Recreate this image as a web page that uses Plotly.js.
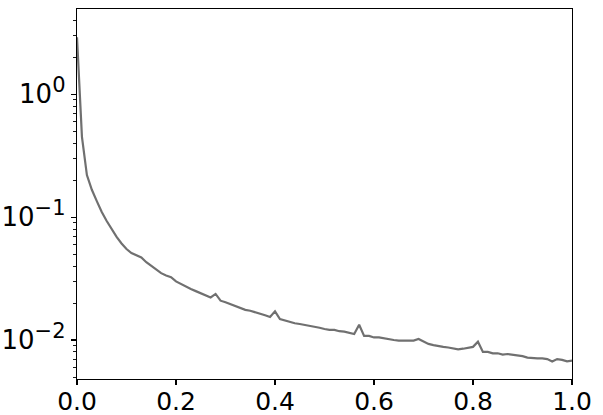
<!DOCTYPE html>
<html>
<head>
<meta charset="utf-8">
<script src="https://cdn.plot.ly/plotly-3.0.1.min.js"></script>
<style>html,body{margin:0;padding:0;background:#fff;}#chart{width:603px;height:415px;}</style>
</head>
<body>
<div id="chart"></div>
<script>
const xValues = [0.00,0.01,0.02,0.03,0.04,0.05,0.06,0.07,0.08,0.09,
  0.10,0.11,0.12,0.13,0.14,0.15,0.16,0.17,0.18,0.19,
  0.20,0.21,0.22,0.23,0.24,0.25,0.26,0.27,0.28,0.29,
  0.30,0.31,0.32,0.33,0.34,0.35,0.36,0.37,0.38,0.39,
  0.40,0.41,0.42,0.43,0.44,0.45,0.46,0.47,0.48,0.49,
  0.50,0.51,0.52,0.53,0.54,0.55,0.56,0.57,0.58,0.59,
  0.60,0.61,0.62,0.63,0.64,0.65,0.66,0.67,0.68,0.69,
  0.70,0.71,0.72,0.73,0.74,0.75,0.76,0.77,0.78,0.79,
  0.80,0.81,0.82,0.83,0.84,0.85,0.86,0.87,0.88,0.89,
  0.90,0.91,0.92,0.93,0.94,0.95,0.96,0.97,0.98,0.99,1.00];
const yValues = [2.9,0.45,0.22,0.167,0.135,0.110,0.093,0.080,0.069,0.061,
  0.055,0.051,0.049,0.047,0.043,0.040,0.037,0.035,0.0335,0.0325,
  0.030,0.0285,0.027,0.026,0.025,0.024,0.023,0.0222,0.0237,0.0209,
  0.0203,0.0196,0.0187,0.0180,0.0176,0.0173,0.0169,0.0164,0.0159,0.0154,
  0.0171,0.0148,0.0144,0.0140,0.0137,0.0135,0.0133,0.0131,0.0128,0.0126,
  0.0123,0.0121,0.0121,0.0118,0.0117,0.0115,0.0112,0.0133,0.0108,0.0108,
  0.0105,0.0105,0.0103,0.0102,0.0100,0.0099,0.0099,0.0098,0.0099,0.0102,
  0.0097,0.0093,0.0091,0.0089,0.0088,0.0087,0.0086,0.0084,0.0085,0.0087,
  0.0088,0.0097,0.0080,0.0080,0.0078,0.0078,0.0076,0.0077,0.0076,0.0075,
  0.0074,0.0072,0.0071,0.0071,0.0071,0.0070,0.0067,0.0070,0.0069,0.0067,0.0068];
const xTickVals = [0,0.2,0.4,0.6,0.8,1.0];
const xTickText = ["0.0","0.2","0.4","0.6","0.8","1.0"];
const yTickVals = [0.01,0.1,1];
const yExponents = ["−2","−1","0"];
const yTickText = yExponents.map(e => "10<sup><span style='font-size:21px'>" + e + "</span></sup>");

const yFont = {family: "DejaVu Sans, sans-serif", size: 26, color: "#000"};
const xFont = {family: "DejaVu Sans, sans-serif", size: 25, color: "#000"};
const trace = {
  x: xValues, y: yValues, type: "scatter", mode: "lines",
  line: {color: "#707070", width: 2.2}, hoverinfo: "skip"
};
const layout = {
  width: 603, height: 415,
  margin: {l: 77, r: 31, t: 9, b: 36, pad: 0},
  paper_bgcolor: "#fff", plot_bgcolor: "#fff",
  showlegend: false, font: yFont,
  xaxis: {
    range: [0, 1], tickvals: xTickVals, ticktext: xTickText,
    showgrid: false, zeroline: false, showline: true, mirror: true,
    linecolor: "#000", linewidth: 1.3, ticks: "outside", ticklen: 5,
    tickwidth: 1.2, tickcolor: "#000", tickfont: xFont, ticklabelstandoff: -5
  },
  yaxis: {
    type: "log", range: [-2.317, 0.693],
    tickvals: yTickVals, ticktext: yTickText,
    showgrid: false, zeroline: false, showline: true, mirror: true,
    linecolor: "#000", linewidth: 1.3, ticks: "outside", ticklen: 5,
    tickwidth: 1.2, tickcolor: "#000", tickfont: yFont,
    minor: {ticks: "outside", ticklen: 3, tickwidth: 0.9, tickcolor: "#000", dtick: "D1", showgrid: false}
  }
};
Plotly.newPlot("chart", [trace], layout, {staticPlot: true, displayModeBar: false});
</script>
</body>
</html>
